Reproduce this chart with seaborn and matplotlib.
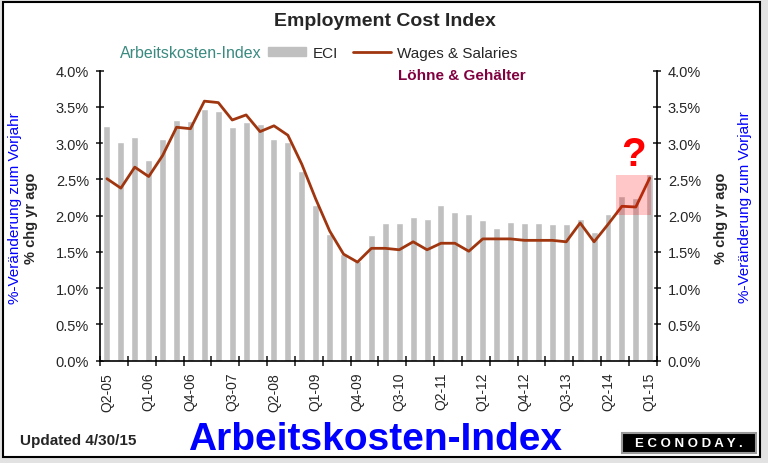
import numpy as np
import pandas as pd
import seaborn as sns
import matplotlib
import matplotlib.pyplot as plt
from matplotlib.patches import Rectangle, Patch
from matplotlib.lines import Line2D

matplotlib.use('Agg')

# quarters Q2-05 .. Q1-15
start = 2005 * 4 + 1
quarters = [f"Q{(start + k) % 4 + 1}-{((start + k) // 4) % 100:02d}" for k in range(40)]

# ECI, % change year ago (bars)
eci = [3.24, 3.01, 3.09, 2.77, 3.06, 3.32, 3.30, 3.47, 3.45, 3.22,
       3.29, 3.26, 3.06, 3.01, 2.62, 2.15, 1.75, 1.47, 1.38, 1.74,
       1.90, 1.90, 1.98, 1.96, 2.15, 2.05, 2.02, 1.94, 1.83, 1.92,
       1.90, 1.90, 1.88, 1.88, 1.95, 1.77, 2.02, 2.27, 2.25, 2.58]

# Wages & Salaries, % change year ago (line)
wages = [2.51, 2.38, 2.67, 2.54, 2.83, 3.22, 3.20, 3.58, 3.56, 3.32,
         3.39, 3.16, 3.24, 3.11, 2.71, 2.23, 1.79, 1.47, 1.36, 1.55,
         1.55, 1.53, 1.64, 1.53, 1.62, 1.62, 1.51, 1.68, 1.68, 1.68,
         1.66, 1.66, 1.66, 1.64, 1.90, 1.64, 1.88, 2.13, 2.12, 2.52]

y_ticks = [0, 0.5, 1.0, 1.5, 2.0, 2.5, 3.0, 3.5, 4.0]

bar_color = '#C0C0C0'
line_color = '#A0360F'

sns.set_style('white')
plt.rcParams['font.family'] = ['Liberation Sans', 'DejaVu Sans']

W, H = 768, 464
fig = plt.figure(figsize=(W / 100, H / 100), dpi=100)
fig.patch.set_facecolor('#E2E2E2')
fig.add_artist(Rectangle((3 / W, 6 / H), 757 / W, 455 / H, transform=fig.transFigure,
                         facecolor='white', edgecolor='black', lw=1.5, zorder=-5))

ax = fig.add_axes([100 / W, 1 - 361.7 / H, 556.7 / W, 290 / H])
ax.set_facecolor('none')

sns.barplot(x=quarters, y=eci, color=bar_color, saturation=1, width=0.5, ax=ax)
sns.lineplot(x=quarters, y=wages, sort=False, color=line_color, lw=2, ax=ax)

ax.set_xlim(-0.5, len(quarters) - 0.5)
ax.set_ylim(0, 4)
ax.set_yticks(y_ticks)
ax.set_yticklabels([f"{v:.1f}%" for v in y_ticks], fontsize=10.5)
ax.tick_params(axis='y', left=True, right=True, labelleft=True, labelright=True,
               direction='inout', length=6, width=1.2, pad=5)

lab_idx = list(range(0, len(quarters), 3))
ax.set_xticks(lab_idx)
ax.set_xticklabels([quarters[i] for i in lab_idx], rotation=90, fontsize=10)
ax.tick_params(axis='x', which='major', length=0, pad=8)
ax.set_xticks(np.arange(-0.5, len(quarters), 2), minor=True)
ax.tick_params(axis='x', which='minor', bottom=True, direction='inout', length=7, width=1.2)

for s in ['left', 'right', 'bottom']:
    ax.spines[s].set_visible(True)
    ax.spines[s].set_color('black')
    ax.spines[s].set_linewidth(1.2)
ax.spines['top'].set_visible(False)
ax.set_xlabel('')
ax.set_ylabel('')

# highlight of the latest quarters
ax.add_patch(Rectangle((36.57, 2.01), 2.5, 0.55, facecolor='#FF0000', alpha=0.22,
                       edgecolor='none', zorder=3))
ax.text(37.8, 2.85, '?', color='#FF0000', fontsize=29, fontweight='bold',
        ha='center', va='center', zorder=4)

# titles and labels
fig.text(385 / W, 1 - 22 / H, 'Employment Cost Index', fontsize=14, fontweight='bold',
         ha='center', va='center')
fig.text(262 / W, 1 - 54 / H, 'Arbeitskosten-Index', fontsize=11.5, color='#3A8A80',
         ha='right', va='center')
fig.text(398 / W, 1 - 76 / H, 'Löhne & Gehälter', fontsize=11, fontweight='bold',
         color='#800040', ha='left', va='center')

handles = [Patch(color=bar_color), Line2D([], [], color=line_color, lw=2)]
fig.legend(handles, ['ECI', 'Wages & Salaries'], loc='center left',
           bbox_to_anchor=(268 / W, 1 - 54 / H), ncol=2, frameon=False, fontsize=11,
           handlelength=2.5, handleheight=0.5, handletextpad=0.4, columnspacing=1.0,
           borderaxespad=0, borderpad=0)

fig.text(31 / W, 1 - 218 / H, '% chg yr ago', rotation=90, fontsize=10.5, fontweight='bold',
         ha='center', va='center')
fig.text(15 / W, 1 - 208 / H, '%-Veränderung zum Vorjahr', rotation=90, fontsize=11,
         color='#0000FF', ha='center', va='center')
fig.text(721 / W, 1 - 218 / H, '% chg yr ago', rotation=90, fontsize=10.5, fontweight='bold',
         ha='center', va='center')
fig.text(745 / W, 1 - 207 / H, '%-Veränderung zum Vorjahr', rotation=90, fontsize=11,
         color='#0000FF', ha='center', va='center')

fig.text(20 / W, 1 - 441 / H, 'Updated 4/30/15', fontsize=11, fontweight='bold',
         ha='left', va='center')
fig.text(375 / W, 1 - 440 / H, 'Arbeitskosten-Index', fontsize=28, fontweight='bold',
         color='#0000FF', ha='center', va='center')

# Econoday logo box
fig.add_artist(Rectangle((622 / W, 1 - 454 / H), 134 / W, 20 / H, transform=fig.transFigure,
                         facecolor='black', edgecolor='#999999', lw=1.5))
fig.text(689 / W, 1 - 444 / H, 'E C O N O D A Y .', fontsize=9.5, fontweight='bold',
         color='white', ha='center', va='center')

fig.savefig('out.png', dpi=100, facecolor=fig.get_facecolor())
